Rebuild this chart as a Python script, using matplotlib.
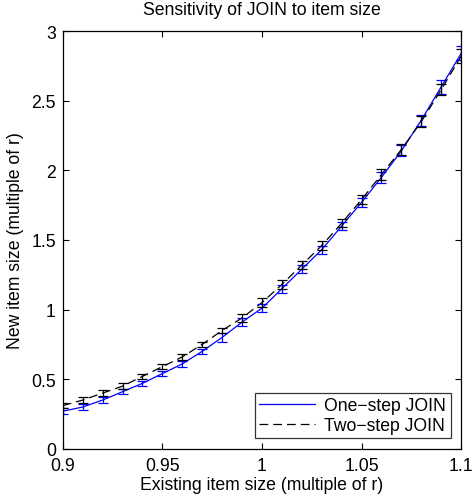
import matplotlib.pyplot as plt
import numpy as np

plt.rcParams['font.family'] = ['Liberation Sans', 'DejaVu Sans']

# item size (multiple of r)
sizes = [0.90, 0.91, 0.92, 0.93, 0.94, 0.95, 0.96, 0.97, 0.98, 0.99, 1.00,
         1.01, 1.02, 1.03, 1.04, 1.05, 1.06, 1.07, 1.08, 1.09, 1.10]

one_step = [0.27, 0.30, 0.35, 0.41, 0.47, 0.54, 0.61, 0.70, 0.80, 0.91, 1.01,
            1.15, 1.29, 1.43, 1.60, 1.77, 1.95, 2.14, 2.36, 2.60, 2.84]
one_err = [0.02, 0.02, 0.02, 0.02, 0.02, 0.02, 0.02, 0.02, 0.03, 0.03, 0.03,
           0.03, 0.03, 0.03, 0.03, 0.03, 0.04, 0.04, 0.04, 0.05, 0.05]

two_step = [0.31, 0.35, 0.40, 0.45, 0.52, 0.59, 0.66, 0.75, 0.85, 0.94, 1.05,
            1.18, 1.32, 1.46, 1.62, 1.79, 1.97, 2.15, 2.35, 2.58, 2.82]
two_err = [0.02, 0.02, 0.02, 0.02, 0.02, 0.02, 0.02, 0.02, 0.02, 0.03, 0.03,
           0.03, 0.03, 0.03, 0.03, 0.03, 0.04, 0.04, 0.04, 0.04, 0.05]

fs = 12.7

fig = plt.figure(figsize=(4.72, 5.02), dpi=100)
ax = fig.add_axes([0.133, 0.104, 0.844, 0.832])

ax.plot(sizes, one_step, color='#0000ff', lw=0.9, label='One\u2212step JOIN')
ax.plot(sizes, two_step, color='black', lw=0.9, ls=(0, (7, 4)), label='Two\u2212step JOIN')
ax.errorbar(sizes, one_step, yerr=one_err, fmt='none', ecolor='#0000ff',
            elinewidth=0.9, capsize=3.5, capthick=0.9)
ax.errorbar(sizes, two_step, yerr=two_err, fmt='none', ecolor='black',
            elinewidth=0.9, capsize=3.5, capthick=0.9)

ax.set_xlim(0.9, 1.1)
ax.set_ylim(0, 3)
ax.set_xticks([0.9, 0.95, 1.0, 1.05, 1.1])
ax.set_xticklabels(['0.9', '0.95', '1', '1.05', '1.1'])
ax.set_yticks([0, 0.5, 1, 1.5, 2, 2.5, 3])
ax.set_yticklabels(['0', '0.5', '1', '1.5', '2', '2.5', '3'])
ax.tick_params(direction='in', top=True, right=True, labelsize=fs, length=4)
ax.tick_params(axis='x', pad=6)
ax.tick_params(axis='y', pad=5)
for s in ax.spines.values():
    s.set_linewidth(0.9)

ax.set_xlabel('Existing item size (multiple of r)', fontsize=fs, labelpad=1)
ax.set_ylabel('New item size (multiple of r)', fontsize=fs, labelpad=5)
ax.set_title('Sensitivity of JOIN to item size', fontsize=fs, pad=12)

leg = ax.legend(loc='lower right', fontsize=fs, frameon=True, fancybox=False,
                edgecolor='black', borderaxespad=0.6, handlelength=3.2,
                borderpad=0.25, labelspacing=0.15, handletextpad=0.5)
leg.get_frame().set_linewidth(0.9)

fig.savefig('out.png', dpi=100)
